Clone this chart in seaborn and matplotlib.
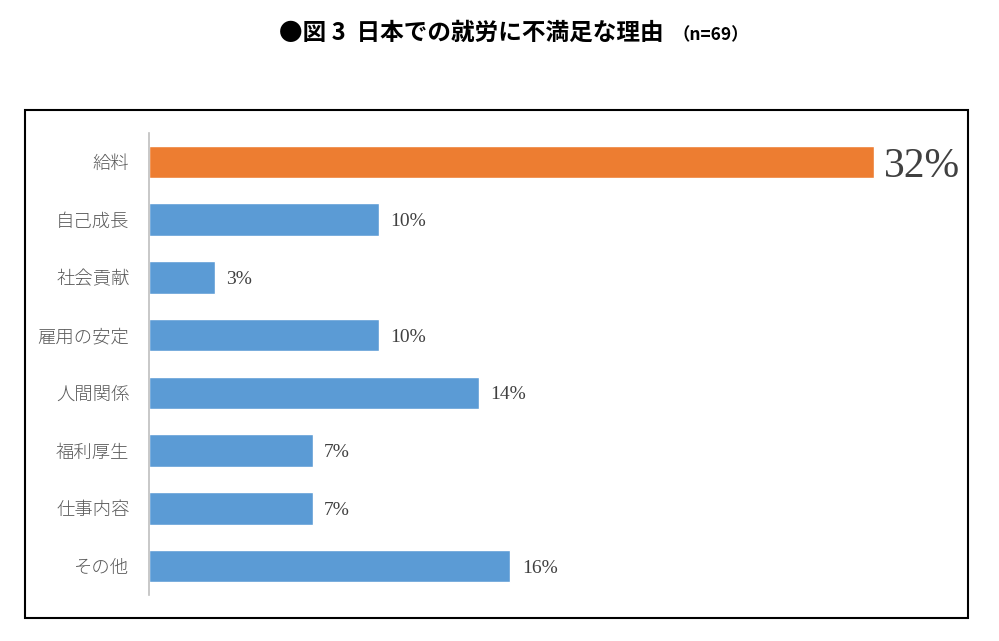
import matplotlib
matplotlib.use("Agg")
import matplotlib.pyplot as plt
import seaborn as sns
import pandas as pd
from matplotlib.patches import Rectangle

categories = ["給料", "自己成長", "社会貢献", "雇用の安定", "人間関係", "福利厚生", "仕事内容", "その他"]
values = [31.9, 10.1, 2.9, 10.1, 14.5, 7.2, 7.2, 15.9]
labels = ["32%", "10%", "3%", "10%", "14%", "7%", "7%", "16%"]
colors = ["#ED7D31"] + ["#5B9BD5"] * 7

sns.set_theme(style="white")
plt.rcParams['font.family'] = ['Noto Sans CJK JP', 'DejaVu Sans']

df = pd.DataFrame({"cat": categories, "val": values})

W, H = 999, 641
fig = plt.figure(figsize=(W / 100, H / 100), dpi=100)
ax = fig.add_axes([149 / W, 1 - 595 / H, (944.5 - 149) / W, (595 - 133) / H])

sns.barplot(data=df, y="cat", x="val", hue="cat", palette=colors, order=categories,
            hue_order=categories, width=0.56, legend=False, ax=ax, saturation=1)

ax.set_xlim(0, 35)
ax.set_ylim(len(categories) - 0.5, -0.5)
ax.set_xlabel("")
ax.set_ylabel("")
ax.set_xticks([])
for s in ["top", "right", "bottom"]:
    ax.spines[s].set_visible(False)
ax.spines["left"].set_color("#BFBFBF")
ax.spines["left"].set_linewidth(1.2)
ax.tick_params(axis="y", length=0, pad=14, labelsize=13.2, labelcolor="#595959")
for t in ax.get_yticklabels():
    t.set_fontweight("light")
ax.set_facecolor("none")

for i, (v, lab) in enumerate(zip(values, labels)):
    if i == 0:
        ax.text(v + 0.45, i, lab, va="center_baseline", ha="left", fontsize=30,
                family="Liberation Serif", color="#404040")
    else:
        ax.text(v + 0.5, i, lab, va="center_baseline", ha="left", fontsize=14,
                family="Liberation Serif", color="#404040")

# outer frame
fig.patches.append(Rectangle((25 / W, 1 - 618 / H), (968 - 25) / W, (618 - 110) / H,
                             transform=fig.transFigure, fill=False, edgecolor="black",
                             linewidth=1.5))

fig.text(279 / W, 1 - 33 / H, "●図 3  日本での就労に不満足な理由", ha="left", va="center",
         fontsize=17, fontweight="bold", color="black")
fig.text(672 / W, 1 - 35 / H, "（n=69）", ha="left", va="center",
         fontsize=12.5, fontweight="bold", color="black")

fig.savefig("out.png", dpi=100)
